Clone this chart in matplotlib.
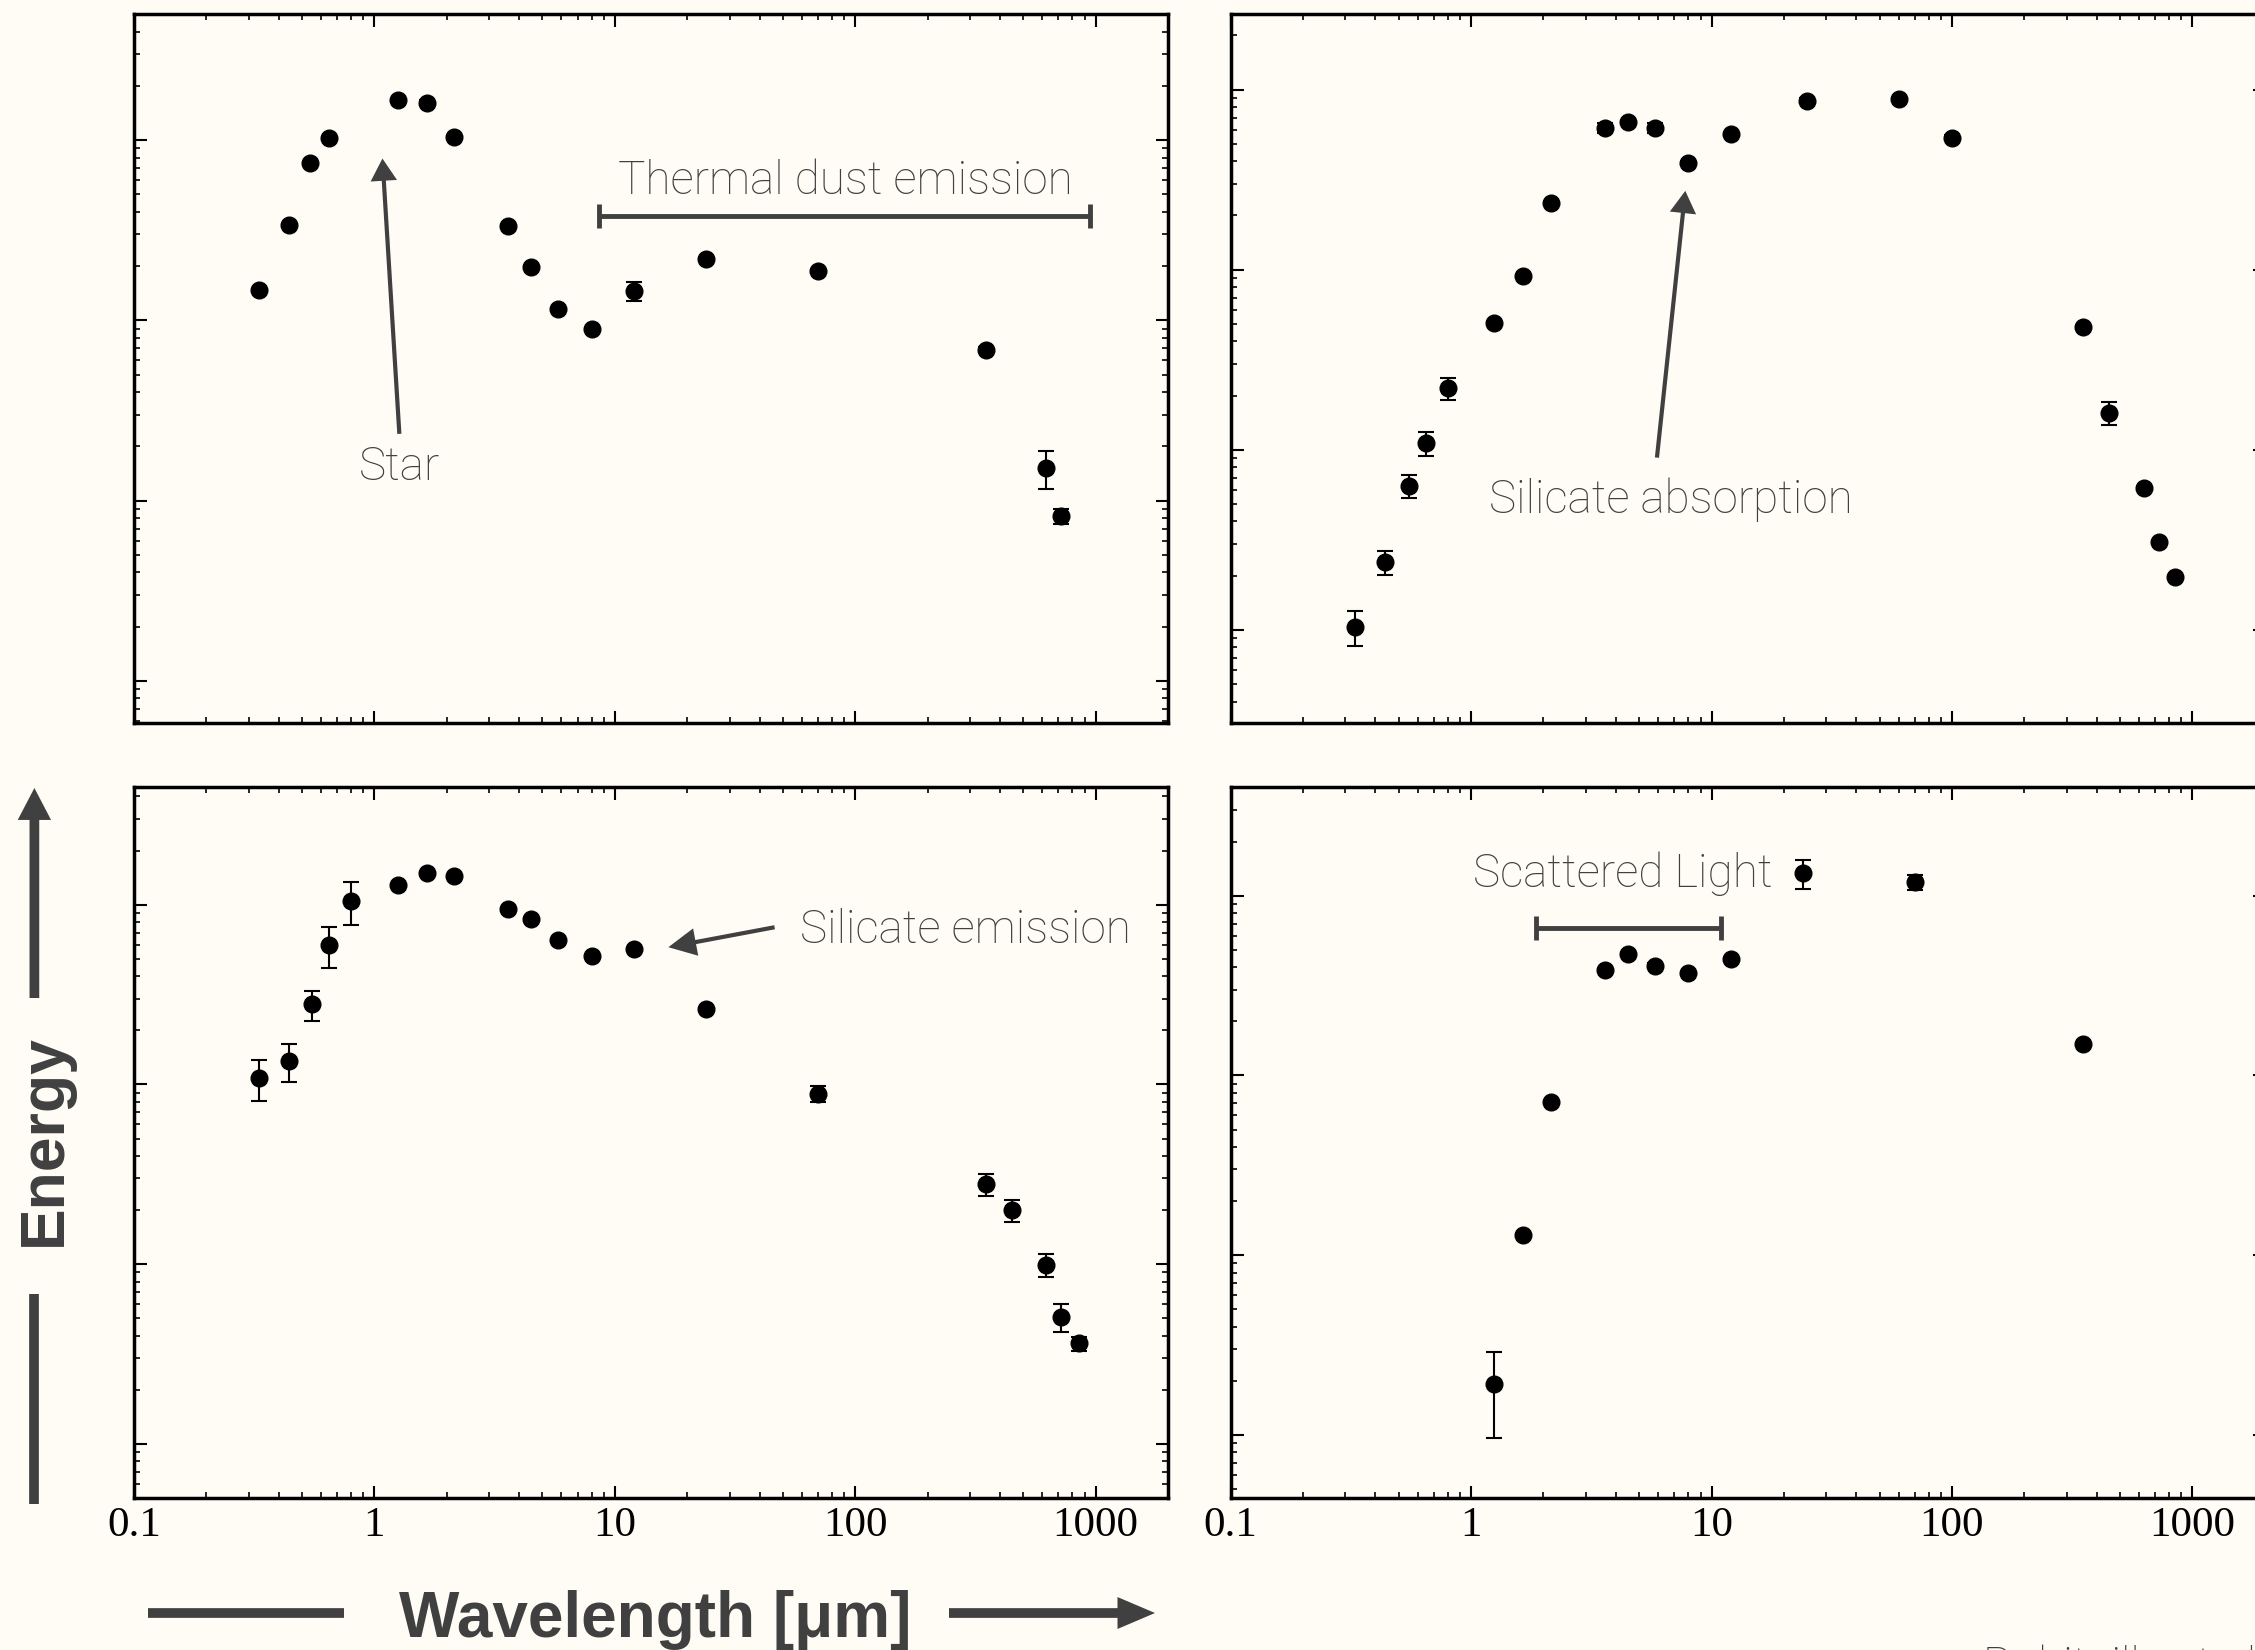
import numpy as np
import matplotlib
matplotlib.use("Agg")
import matplotlib.pyplot as plt
from matplotlib.patches import FancyArrowPatch
from matplotlib.lines import Line2D
from matplotlib.ticker import LogLocator, NullFormatter

# wavelengths in micron, fluxes in arbitrary units (log axes, no y labels)
tl_wave = [0.33, 0.44, 0.54, 0.65, 1.25, 1.65, 2.15, 3.6, 4.5, 5.8, 8.0, 12, 24, 70, 350, 620, 720]
tl_flux = [147, 337, 743, 1028, 1675, 1618, 1047, 334, 198, 116, 90, 146, 219, 189, 69, 15.2, 8.2]
tl_err = [4, 9, 20, 28, 45, 45, 28, 9, 5, 3, 2.5, 18, 6, 5, 2, 3.6, 0.8]

tr_wave = [0.33, 0.44, 0.55, 0.65, 0.80, 1.25, 1.65, 2.15, 3.6, 4.5, 5.8, 8.0, 12, 25, 60, 100, 350, 450, 630, 730, 850]
tr_flux = [1.04, 2.37, 6.31, 10.9, 22.0, 50.4, 92.5, 234, 612, 662, 612, 389, 566, 869, 885, 542, 48, 16.1, 6.12, 3.09, 1.96]
tr_err = [0.23, 0.36, 0.9, 1.7, 3.2, 1.4, 2.5, 6, 40, 18, 40, 10, 15, 24, 24, 15, 1.3, 2.3, 0.17, 0.08, 0.05]

bl_wave = [0.33, 0.44, 0.55, 0.65, 0.80, 1.25, 1.65, 2.15, 3.6, 4.5, 5.8, 8.0, 12, 24, 70, 350, 450, 620, 720, 850]
bl_flux = [109, 135, 279, 597, 1054, 1291, 1493, 1442, 944, 828, 638, 516, 568, 264, 89, 27.8, 19.9, 9.95, 5.07, 3.62]
bl_err = [28, 32, 53, 155, 280, 35, 40, 39, 26, 23, 17, 14, 15, 7, 9, 3.8, 2.7, 1.5, 0.9, 0.32]

br_wave = [1.25, 1.65, 2.15, 3.6, 4.5, 5.8, 8.0, 12, 24, 70, 350]
br_flux = [1.92, 12.9, 71.4, 386, 473, 409, 370, 444, 1330, 1191, 149]
br_err = [0.96, 0.35, 2, 10, 13, 11, 10, 12, 245, 115, 4]

xticks = [0.1, 1, 10, 100, 1000]
xlabels = ["0.1", "1", "10", "100", "1000"]

bg = "#fefcf4"
gray = "#404040"
ann_font = dict(family=["Roboto", "DejaVu Sans"], fontweight="light", fontsize=33, color=gray)

plt.rcParams["font.family"] = ["Liberation Serif", "DejaVu Serif"]

fig = plt.figure(figsize=(22.55, 16.5), dpi=100, facecolor=bg)

ax_tl = fig.add_axes([0.05942, 0.56182, 0.45854, 0.4297])
ax_tr = fig.add_axes([0.54576, 0.56182, 0.45854, 0.4297])
ax_bl = fig.add_axes([0.05942, 0.09224, 0.45854, 0.4307])
ax_br = fig.add_axes([0.54576, 0.09224, 0.45854, 0.4307])


def setup(ax, ylim, bottom):
    ax.set_xscale("log")
    ax.set_yscale("log")
    ax.set_facecolor(bg)
    for s in ax.spines.values():
        s.set_linewidth(2.5)
    ax.set_xticks(xticks)
    ax.set_xticklabels(xlabels if bottom else [])
    ax.xaxis.set_minor_locator(LogLocator(base=10, subs=np.arange(2, 10), numticks=20))
    ax.xaxis.set_minor_formatter(NullFormatter())
    ax.yaxis.set_major_locator(LogLocator(base=10, numticks=20))
    ax.yaxis.set_minor_locator(LogLocator(base=10, subs=np.arange(2, 10), numticks=20))
    ax.yaxis.set_major_formatter(NullFormatter())
    ax.yaxis.set_minor_formatter(NullFormatter())
    ax.tick_params(which="both", direction="in", top=True, right=True)
    ax.tick_params(which="major", length=9, width=1.5, pad=6, labelsize=31)
    ax.tick_params(which="minor", length=4.5, width=1.2)
    ax.set_xlim(0.1, 2000)
    ax.set_ylim(*ylim)


def points(ax, w, f, e):
    ax.errorbar(w, f, yerr=e, fmt="o", color="black", ms=12,
                elinewidth=1.5, capsize=6, capthick=1.5, zorder=3)


def arrow(ax, start, tip, hl=16, hw=19):
    ax.annotate("", xy=tip, xytext=start,
                arrowprops=dict(arrowstyle="simple,head_length=%g,head_width=%g,tail_width=3" % (hl, hw),
                                mutation_scale=1, color=gray, lw=0, shrinkA=0, shrinkB=0))


def bar(ax, x1, x2, y):
    ax.plot([x1, x2], [y, y], color=gray, lw=3.5, marker="|", ms=17, mew=3.5,
            solid_capstyle="butt")


setup(ax_tl, (0.585, 5012), False)
setup(ax_tr, (0.304, 2630), False)
setup(ax_bl, (0.501, 4508), True)
setup(ax_br, (0.447, 4018), True)

points(ax_tl, tl_wave, tl_flux, tl_err)
points(ax_tr, tr_wave, tr_flux, tr_err)
points(ax_bl, bl_wave, bl_flux, bl_err)
points(ax_br, br_wave, br_flux, br_err)

# top left annotations
ax_tl.text(1.27, 13.1, "Star", ha="center", va="baseline", **ann_font)
arrow(ax_tl, (1.27, 23.5), (1.08, 791))
ax_tl.text(90.6, 504, "Thermal dust emission", ha="center", va="baseline", **ann_font)
bar(ax_tl, 8.6, 950, 378)

# top right
ax_tr.text(6.75, 4.44, "Silicate absorption", ha="center", va="baseline", **ann_font)
arrow(ax_tr, (5.93, 9.05), (7.78, 274))

# bottom left
ax_bl.text(288, 611, "Silicate emission", ha="center", va="baseline", **ann_font)
arrow(ax_bl, (46.2, 749), (16.7, 580), hl=20, hw=20)

# bottom right
ax_br.text(4.29, 1122, "Scattered Light", ha="center", va="baseline", **ann_font)
bar(ax_br, 1.87, 10.9, 659)

# axis labels with arrows
fig.text(0.2905, 0.00806, "Wavelength [μm]", ha="center", va="baseline",
         family=["Liberation Sans", "DejaVu Sans"], fontweight="bold", fontsize=46, color="#404040")
fig.text(61 / 2255, 1 - 1140 / 1650, "Energy", rotation=90, rotation_mode="anchor",
         ha="center", va="baseline", family=["Liberation Sans", "DejaVu Sans"],
         fontweight="bold", fontsize=45, color="#404040")

fig.add_artist(Line2D([148 / 2255, 344 / 2255], [0.02242, 0.02242], transform=fig.transFigure,
                      color="#404040", lw=7, solid_capstyle="butt"))
fig.add_artist(FancyArrowPatch((949 / 2255, 0.02242), (1155 / 2255, 0.02242), transform=fig.transFigure,
                               arrowstyle="simple,head_length=27,head_width=23,tail_width=7",
                               mutation_scale=1, color="#404040", lw=0, shrinkA=0, shrinkB=0))
fig.add_artist(Line2D([0.01525, 0.01525], [1 - 1293.5 / 1650, 1 - 1503.5 / 1650], transform=fig.transFigure,
                      color="#404040", lw=7, solid_capstyle="butt"))
fig.add_artist(FancyArrowPatch((0.01525, 1 - 998 / 1650), (0.01525, 1 - 788 / 1650), transform=fig.transFigure,
                               arrowstyle="simple,head_length=23,head_width=24,tail_width=7",
                               mutation_scale=1, color="#404040", lw=0, shrinkA=0, shrinkB=0))

# credit line, cut off by the bottom edge as in the original
fig.text(1983 / 2255, 1 - 1645 / 1650, "Robitaille et al.", ha="left", va="top", **ann_font)

fig.savefig("out.png", dpi=100, facecolor=bg)
